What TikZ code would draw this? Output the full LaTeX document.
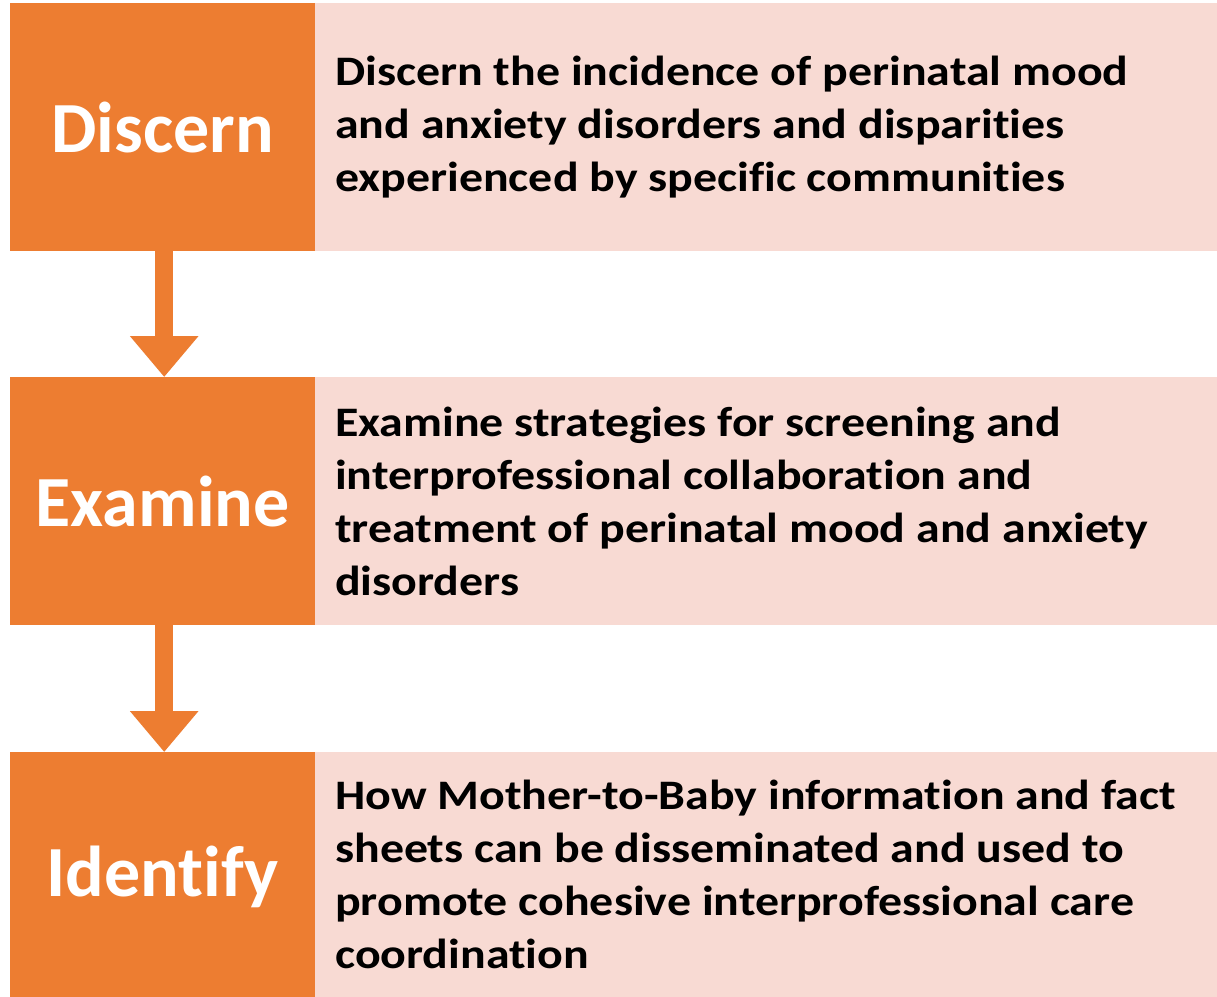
\documentclass[tikz,border=0pt]{standalone}
\usepackage{fontspec}
\setmainfont{Carlito}[Ligatures=NoCommon]
\newfontfamily\descfont{Carlito}[FakeStretch=1.14, Ligatures=NoCommon]
\usetikzlibrary{arrows.meta}
\definecolor{stageorange}{HTML}{ED7D31}
\definecolor{stagepink}{HTML}{F8DAD3}
\tikzset{
  stagebox/.style={fill=stageorange, minimum width=305pt, minimum height=248pt,
    inner sep=0pt, anchor=north west, text=white,
    font=\fontsize{72}{80}\selectfont\bfseries},
  descbox/.style={fill=stagepink, minimum width=902pt, minimum height=248pt,
    inner sep=0pt, anchor=north west},
  desctext/.style={anchor=west, inner sep=0pt, align=left, text=black,
    font=\descfont\fontsize{42}{53}\selectfont\bfseries},
  flowarrow/.style={draw=stageorange, line width=18pt,
    -{Triangle[width=66pt,length=41pt]}, stageorange},
}
\begin{document}
\begin{tikzpicture}[x=1pt,y=1pt]
\useasboundingbox (0,0) rectangle (1217,-996);
\fill[white] (0,0) rectangle (1217,-996);

% row 1
\node[descbox] (d1) at (315,-3) {};
\node[stagebox] (s1) at (10,-3) {Discern};
\node[desctext] (t1) at (335,-127) {Discern the incidence of perinatal mood\\and anxiety disorders and disparities\\experienced by specific communities};

% row 2
\node[descbox] (d2) at (315,-377) {};
\node[stagebox] (s2) at (10,-377) {Examine};
\node[desctext] (t2) at (335,-501) {Examine strategies for screening and\\interprofessional collaboration and\\treatment of perinatal mood and anxiety\\disorders};

% row 3
\node[descbox, minimum height=250pt] (d3) at (315,-752) {};
\node[stagebox, minimum height=250pt] (s3) at (10,-752) {Identify};
\node[desctext] (t3) at (335,-874) {How Mother-to-Baby information and fact\\sheets can be disseminated and used to\\promote cohesive interprofessional care\\coordination};

% connectors
\draw[flowarrow] ([xshift=1.5pt]s1.south) -- ([xshift=1.5pt]s2.north);
\draw[flowarrow] ([xshift=1.5pt]s2.south) -- ([xshift=1.5pt]s3.north);
\end{tikzpicture}
\end{document}
